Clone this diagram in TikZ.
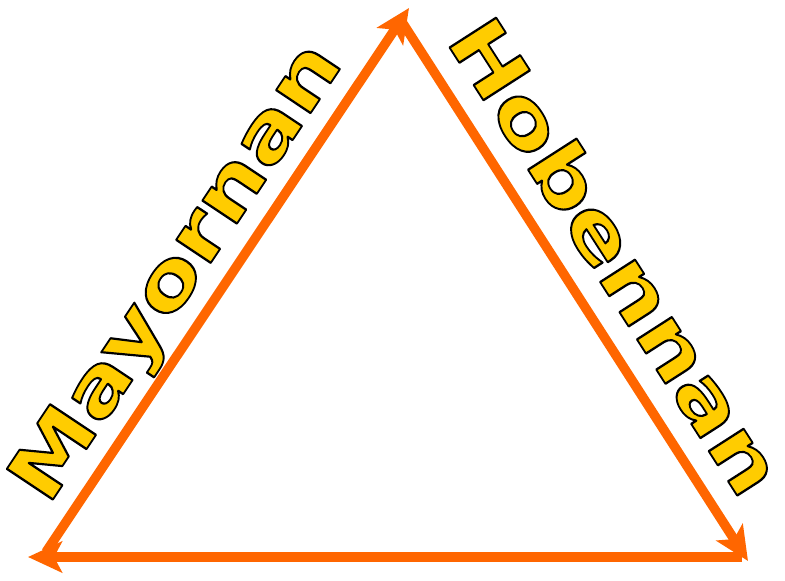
\documentclass[tikz,border=0pt]{standalone}
\usepackage{fontspec}
\usepackage{graphicx}
\usetikzlibrary{arrows.meta}
\newfontfamily\labelfont{DejaVu Sans Bold}
\definecolor{edgeorange}{HTML}{FF6600}
\definecolor{textyellow}{HTML}{FFCC00}
\tikzset{
  edgearrow/.style={draw=edgeorange, line width=9.5pt,
    -{Stealth[length=34pt,width=31pt,inset=8pt]}},
  sidelabel/.style={inner sep=0pt, anchor=base,
    font=\labelfont\fontsize{76}{80}\selectfont}
}
\newcommand{\outlined}[1]{\scalebox{1.26}[1]{\color{textyellow}%
  \special{pdf:literal direct 0 0 0 RG 2 Tr 1.8 w 1 j}#1%
  \special{pdf:literal direct 0 Tr}}}
\begin{document}
\begin{tikzpicture}[x=1pt,y=-1pt]
\useasboundingbox (0,0) rectangle (785,581);
\coordinate (Lb) at (46,552);
\coordinate (Lt) at (409,8);
\coordinate (Rt) at (402,22);
\coordinate (Rb) at (748,561);
\coordinate (Bb) at (742,557);
\coordinate (Bl) at (28,557);
\draw[edgearrow] (Lb) -- (Lt);
\draw[edgearrow] (Rt) -- (Rb);
\draw[edgearrow] (Bb) -- (Bl);
\node[sidelabel, rotate=56.3] (may) at (196,285) {\outlined{Mayornan}};
\node[sidelabel, rotate=-57.3] (hob) at (593,271) {\outlined{Hobennan}};
\end{tikzpicture}
\end{document}
